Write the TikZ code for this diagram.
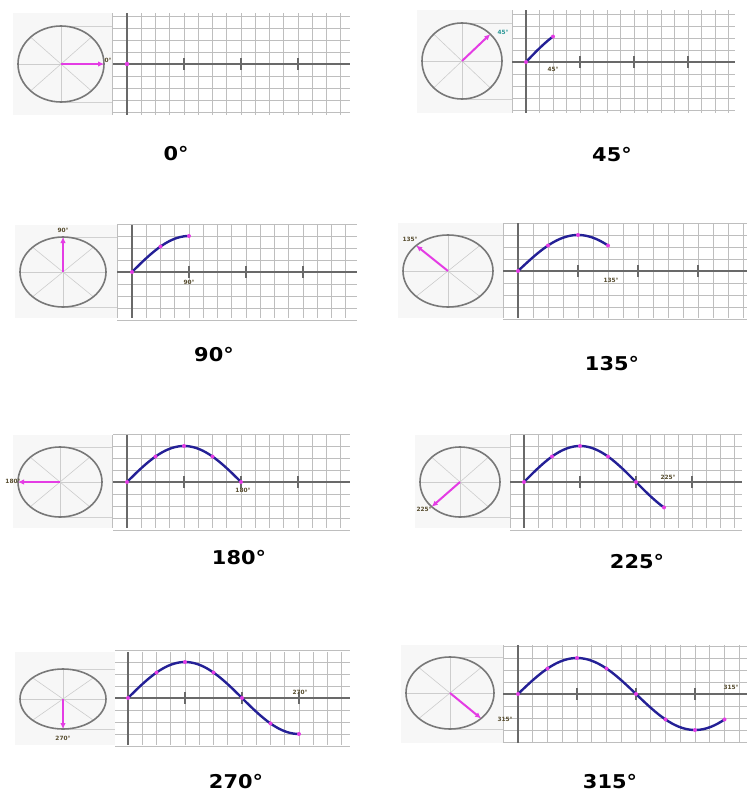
\documentclass[tikz,border=0pt]{standalone}
\usepackage{fontspec}
\setmainfont{DejaVu Sans}
\usetikzlibrary{arrows.meta}
\definecolor{gridc}{RGB}{190,190,190}
\definecolor{axisc}{RGB}{105,105,105}
\definecolor{circc}{RGB}{120,120,120}
\definecolor{spokec}{RGB}{205,205,205}
\definecolor{vecc}{RGB}{228,60,228}
\definecolor{wavec}{RGB}{36,32,150}
\definecolor{labc}{RGB}{85,75,45}
\definecolor{tealc}{RGB}{40,150,150}
\definecolor{tintc}{RGB}{247,247,247}
\tikzset{
 gridline/.style={draw=gridc, line width=0.9pt},
 axisline/.style={draw=axisc, line width=1.7pt},
 tickline/.style={draw=axisc, line width=1.4pt},
 wheel/.style={draw=circc, line width=1.6pt},
 spoke/.style={draw=spokec, line width=0.6pt},
 vec/.style={draw=vecc, line width=2pt, -{Latex[length=6pt,width=5.5pt]}},
 wave/.style={draw=wavec, line width=2.4pt, line cap=round},
 wavedot/.style={fill=vecc},
 proj/.style={draw=gridc!70, line width=0.6pt},
 small/.style={font=\fontsize{5.8}{6}\selectfont\bfseries, text=labc, inner sep=0pt},
 title/.style={font=\fontsize{19}{19}\selectfont\bfseries, inner sep=0pt, xscale=1.1}
}
\begin{document}
\begin{tikzpicture}[x=1pt,y=-1pt]
\useasboundingbox (0,0) rectangle (747,798);
\fill[white] (0,0) rectangle (747,798);
\foreach \pcx/\pcy/\prx/\pry/\pgxa/\pgxb/\pgya/\pgyb/\pax/\pay/\puu/\pang in {
 61/64/43/38/113/350/13/115/127/64/57/0,
 462/61/40/38/512/735/10/113/526/62/54/45,
 63/272/43/35/117/357/225/318/132/272/57/90,
 448/271/45/36/503/747/223/318/518/271/60/135,
 60/482/42/35/113/350/435/528/127/482/57/180,
 460/482/40/35/510/742/435/528/524/482/56/225,
 63/699/43/30/115/350/652/745/128/698/57/270,
 450/693/44/36/503/747/645/743/518/694/59/315}{
 % tint behind wheel
 \fill[tintc] (\pcx-\prx-5,\pgya) rectangle (\pgxa,\pgyb);
 \draw[proj] (\pcx,\pcy-\pry) -- (\pgxa,\pcy-\pry);
 \draw[proj] (\pcx,\pcy+\pry) -- (\pgxa,\pcy+\pry);
 % grid
 \pgfmathsetmacro\pdd{\puu/4}
 \foreach \k in {-1,...,18}{
   \pgfmathsetmacro\xx{\pax+\k*\pdd}
   \pgfmathtruncatemacro\ok{(\xx>=\pgxa-1)&&(\xx<=\pgxb+1)}
   \ifnum\ok=1 \draw[gridline] (\xx,\pgya) -- (\xx,\pgyb); \fi
 }
 \foreach \k in {-4,...,4}{
   \pgfmathsetmacro\yy{\pay+\k*12}
   \pgfmathtruncatemacro\ok{(\yy>=\pgya-2)&&(\yy<=\pgyb+2)}
   \ifnum\ok=1 \draw[gridline] (\pgxa,\yy) -- (\pgxb,\yy); \fi
 }
 \draw[axisline] (\pax,\pgya) -- (\pax,\pgyb);
 \draw[axisline] (\pgxa,\pay) -- (\pgxb,\pay);
 \foreach \k in {1,2,3}{
   \draw[tickline] (\pax+\k*\puu,\pay-6) -- (\pax+\k*\puu,\pay+6);
 }
 % wheel
 \foreach \s in {0,45,90,135}{
   \draw[spoke] ({\pcx+\prx*cos(\s)},{\pcy-\pry*sin(\s)}) -- ({\pcx-\prx*cos(\s)},{\pcy+\pry*sin(\s)});
 }
 \draw[wheel] (\pcx,\pcy) ellipse [x radius=\prx, y radius=\pry];
 \draw[vec] (\pcx,\pcy) -- ({\pcx+\prx*cos(\pang)},{\pcy-\pry*sin(\pang)});
 % wave
 \ifnum\pang>0
   \draw[wave] plot[domain=0:\pang, samples=60, smooth] ({\pax+\x/90*\puu},{\pay-36*sin(\x)});
   \foreach \t in {0,45,...,\pang}{
     \fill[wavedot] ({\pax+\t/90*\puu},{\pay-36*sin(\t)}) circle (2);
   }
 \else
   \fill[wavedot] (\pax,\pay) circle (2.2);
 \fi
}
% small labels
\node[small] (l0a) at (108,60) {0°};
\node[small, text=tealc] (l45a) at (503,32) {45°};
\node[small] (l45b) at (553,69) {45°};
\node[small] (l90a) at (63,230) {90°};
\node[small] (l90b) at (189,282) {90°};
\node[small] (l135a) at (410,239) {135°};
\node[small] (l135b) at (611,280) {135°};
\node[small] (l180a) at (13,481) {180°};
\node[small] (l180b) at (243,490) {180°};
\node[small] (l225a) at (424,509) {225°};
\node[small] (l225b) at (668,477) {225°};
\node[small] (l270a) at (63,738) {270°};
\node[small] (l270b) at (300,692) {270°};
\node[small] (l315a) at (505,719) {315°};
\node[small] (l315b) at (731,687) {315°};
% titles
\node[title] (t0) at (176,154) {0°};
\node[title] (t45) at (612,155) {45°};
\node[title] (t90) at (214,355) {90°};
\node[title] (t135) at (612,364) {135°};
\node[title] (t180) at (239,558) {180°};
\node[title] (t225) at (637,562) {225°};
\node[title] (t270) at (236,782) {270°};
\node[title] (t315) at (610,782) {315°};
\end{tikzpicture}
\end{document}
